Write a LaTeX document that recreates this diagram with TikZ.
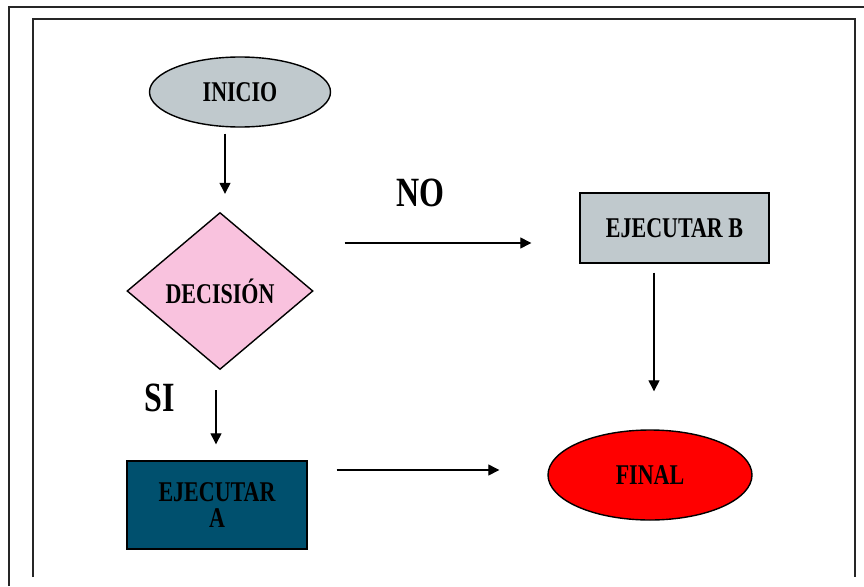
\documentclass[tikz,border=0pt]{standalone}
\usepackage{fontspec}
\setmainfont{Liberation Serif}
\usetikzlibrary{shapes.geometric,arrows.meta}
\definecolor{grisazul}{RGB}{192,201,205}
\definecolor{rosa}{RGB}{249,194,222}
\definecolor{petroleo}{RGB}{0,80,110}
% tall, narrow bold lettering
\newcommand\tall[1]{\scalebox{1}[1.3]{#1}}
\begin{document}
\begin{tikzpicture}[x=1pt,y=-1pt,
  shapebox/.style={draw=black,line width=1.4pt,inner sep=0pt,
    font=\fontsize{22}{28}\selectfont\bfseries,text=black},
  oval/.style={shapebox,ellipse},
  rombo/.style={shapebox,diamond,aspect=1.18},
  caja/.style={shapebox,rectangle},
  etiqueta/.style={font=\fontsize{32}{36}\selectfont\bfseries},
  flecha/.style={line width=1.3pt,-{Triangle[length=11pt,width=11pt]}},
  marco/.style={line width=2.2pt,black!85}]
\useasboundingbox (0,0) rectangle (864,586);
\fill[white] (0,0) rectangle (864,586);

% frames
\draw[marco] (9,586) -- (9,7) -- (864,7);
\draw[marco] (33,577) -- (33,19) -- (855,19) -- (855,577);

% nodes
\node[oval,fill=grisazul,minimum width=181pt,minimum height=70pt] (inicio) at (240,92) {\tall{INICIO}};
\node[rombo,fill=rosa,minimum width=186pt,minimum height=157pt] (dec) at (220,291) {\tall{DECISIÓN}};
\node[caja,fill=grisazul,minimum width=189pt,minimum height=70pt] (ejb) at (674.5,228) {\tall{EJECUTAR B}};
\node[caja,fill=petroleo,minimum width=180pt,minimum height=88pt,align=center] (eja) at (217,505) {\tall{EJECUTAR}\\[-2pt]\tall{A}};
\node[oval,fill=red,minimum width=204pt,minimum height=90pt] (final) at (650,475) {\tall{FINAL}};

% labels
\node[etiqueta] (no) at (420,193) {\tall{NO}};
\node[etiqueta] (si) at (160,398) {\tall{SI}};

% guide coordinates for the connector lines
\coordinate (g1) at (225,0);
\coordinate (g2) at (216,0);
\coordinate (g3) at (0,470);
\coordinate (g4) at (0,243);
\coordinate (g5) at (654,0);

% connectors
\draw[flecha,shorten <=6pt,shorten >=18pt] (inicio.south -| g1) -- (dec.north -| g1);
\draw[flecha,shorten <=20pt,shorten >=16pt] (dec.south -| g2) -- (eja.north -| g2);
\draw[flecha,shorten <=29pt,shorten >=48pt] (eja.east |- g3) -- (final.west |- g3);
\draw[flecha,shorten <=31pt,shorten >=48pt] (dec.east |- g4) -- (ejb.west |- g4);
\draw[flecha,shorten <=9pt,shorten >=38pt] (ejb.south -| g5) -- (final.north -| g5);
\end{tikzpicture}
\end{document}
